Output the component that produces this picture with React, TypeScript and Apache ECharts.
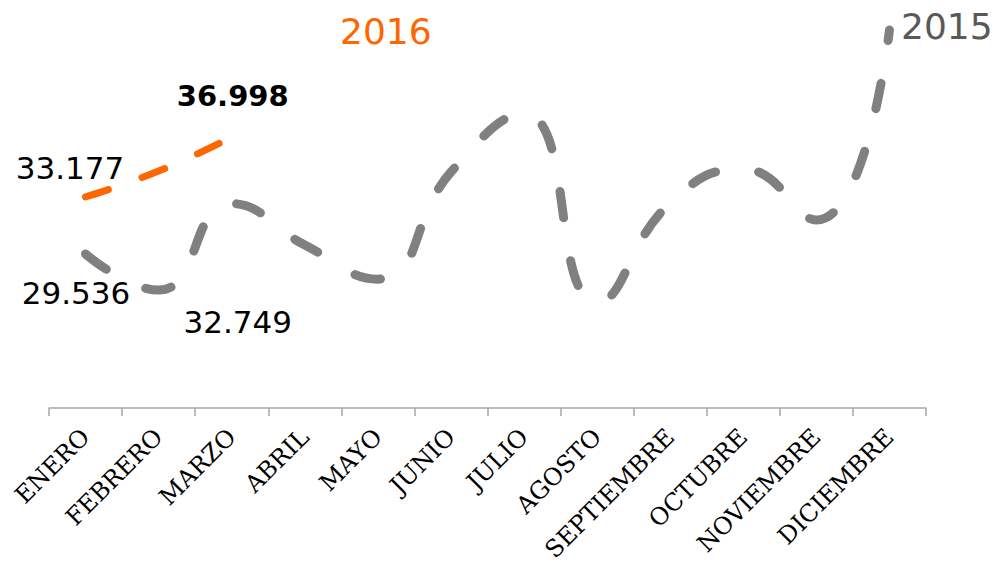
import React, { useEffect, useRef } from "react";
import * as echarts from "echarts";

const months = [
  "ENERO", "FEBRERO", "MARZO", "ABRIL", "MAYO", "JUNIO",
  "JULIO", "AGOSTO", "SEPTIEMBRE", "OCTUBRE", "NOVIEMBRE", "DICIEMBRE",
];
const values2015 = [29.536, 27.23, 32.749, 30.11, 27.93, 34.77, 38.5, 26.46, 32.79, 34.96, 31.7, 43.84];
const values2016 = [33.177, 34.83, 36.998];
const seriesNames = ["2015", "2016"];

const labelFont = "DejaVu Sans";

export default function App() {
  const ref = useRef<HTMLDivElement>(null);
  useEffect(() => {
    if (!ref.current) return;
    const chart = echarts.init(ref.current, undefined, { renderer: "svg" });
    const lbl = (show: boolean, offset: number[], bold = false) =>
      show
        ? {
            show: true,
            position: "inside",
            offset,
            formatter: "{c}",
            fontFamily: labelFont,
            fontSize: bold ? 29 : 31,
            fontWeight: bold ? "bold" : "normal",
            color: "#000",
          }
        : { show: false };
    const data2015 = values2015.map((v, i) => ({
      value: v,
      label: i === 0 ? lbl(true, [-9.5, 39]) : i === 2 ? lbl(true, [6, 118]) : lbl(false, []),
    }));
    const data2016 = values2016.map((v, i) => ({
      value: v,
      label: i === 0 ? lbl(true, [-15.5, -29]) : i === 2 ? lbl(true, [1, -41], true) : lbl(false, []),
    }));
    chart.setOption({
      animation: false,
      grid: { left: 49, right: 71, top: 4, bottom: 155, outerBoundsMode: "none", containLabel: false },
      xAxis: {
        type: "category",
        data: months,
        boundaryGap: true,
        axisLine: { lineStyle: { color: "#a6a6a6", width: 1.5 } },
        axisTick: { show: true, length: 8, lineStyle: { color: "#a6a6a6", width: 1.5 } },
        axisLabel: {
          rotate: 45,
          interval: 0,
          margin: 25,
          fontFamily: "DejaVu Serif",
          fontSize: 24,
          color: "#000",
        },
        splitLine: { show: false },
      },
      yAxis: { type: "value", min: 19.7, max: 45.5, show: false, splitLine: { show: false } },
      series: [
        {
          name: seriesNames[0],
          type: "line",
          data: data2015,
          smooth: 0.5,
          symbol: "circle",
          symbolSize: 0,
          showSymbol: true,
          itemStyle: { color: "rgba(0,0,0,0)", borderWidth: 0 },
          lineStyle: { color: "#808080", width: 9, type: [26, 43.6], cap: "round" },
          z: 2,
        },
        {
          name: seriesNames[1],
          type: "line",
          data: data2016,
          smooth: 0.5,
          symbol: "circle",
          symbolSize: 0,
          showSymbol: true,
          itemStyle: { color: "rgba(0,0,0,0)", borderWidth: 0 },
          lineStyle: { color: "#ff6600", width: 7, type: [24, 36], cap: "round" },
          z: 3,
        },
      ],
      graphic: [
        {
          type: "text",
          left: 340,
          top: 13,
          style: { text: seriesNames[1], fontFamily: labelFont, fontSize: 36, fill: "#ff6600" },
        },
        {
          type: "text",
          left: 901,
          top: 8,
          style: { text: seriesNames[0], fontFamily: labelFont, fontSize: 36, fill: "#595959" },
        },
      ],
    });
    return () => chart.dispose();
  }, []);
  return (
    <div
      ref={ref}
      style={{ position: "fixed", left: 0, top: 0, width: 997, height: 563, background: "#fff" }}
    />
  );
}
